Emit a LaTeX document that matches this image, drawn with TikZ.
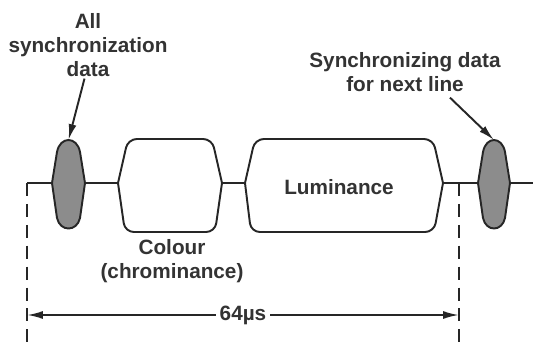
\documentclass[tikz,border=0pt]{standalone}
\usepackage{fontspec}
\setmainfont{Liberation Sans}
\usetikzlibrary{arrows.meta}

\begin{document}
\begin{tikzpicture}[
  x=0.02cm, y=-0.02cm,
  wave/.style={draw=black!85, line width=1.1pt, rounded corners=5},
  syncblob/.style={draw=black!85, fill=black!45, line width=1.1pt},
  note/.style={font=\bfseries\fontsize{11.8}{13.6}\selectfont, text=black!80, align=center, inner sep=1pt},
  marker/.style={draw=black!85, line width=1pt, dash pattern=on 7.4pt off 4.5pt},
  pointer/.style={draw=black!85, line width=1.1pt, -{Latex[length=9pt,width=4.5pt]}}
]
  \useasboundingbox (0,0) rectangle (533,354);

  % points on the line
  \coordinate (start) at (27,183);
  \coordinate (blobA-l) at (52,183);
  \coordinate (blobA-r) at (85,183);
  \coordinate (blobA-top) at (68.5,140);
  \coordinate (chroma-l) at (118,183);
  \coordinate (chroma-r) at (222,183);
  \coordinate (luma-l) at (245,183);
  \coordinate (luma-r) at (443,183);
  \coordinate (lineend) at (459,183);
  \coordinate (blobB-l) at (478,183);
  \coordinate (blobB-r) at (510,183);
  \coordinate (blobB-top) at (494,140);
  \coordinate (finish) at (533,183);

  % the line
  \draw[wave] (start) -- (blobA-l);
  \draw[wave] (blobA-r) -- (chroma-l);
  \draw[wave] (chroma-r) -- (luma-l);
  \draw[wave] (luma-r) -- (blobB-l);
  \draw[wave] (blobB-r) -- (finish);

  \draw[wave] (chroma-l) -- (128,139) -- (212,139) -- (chroma-r);
  \draw[wave] (chroma-l) -- (125,232) -- (215,232) -- (chroma-r);
  \draw[wave] (luma-l) -- (255,139) -- (433,139) -- (luma-r);
  \draw[wave] (luma-l) -- (251,232) -- (434,232) -- (luma-r);

  \filldraw[syncblob] (blobA-l) -- (57,152) .. controls (60,136) and (77,136) .. (80,152)
    -- (blobA-r) -- (80,218) .. controls (77,232) and (60,232) .. (57,218) -- cycle;
  \filldraw[syncblob] (blobB-l) -- (483,152) .. controls (486,136) and (502,136) .. (505,152)
    -- (blobB-r) -- (505,218) .. controls (502,232) and (486,232) .. (483,218) -- cycle;

  % texts
  \node[note] (syncall) at (88,45) {All\\synchronization\\data};
  \node[note] (syncnext) at (405,72) {Synchronizing data\\for next line};
  \node[note] (luma) at (339,187) {Luminance};
  \node[note] (chroma) at (172,261) {Colour\\(chrominance)};

  \draw[pointer] ([xshift=-2pt]syncall.south) -- (blobA-top);
  \draw[pointer] ([shift={(45,4)}]syncnext.south) -- (blobB-top);

  % one line period
  \coordinate (markA-end) at (27,347);
  \coordinate (markB-end) at (459,347);
  \coordinate (span-l) at (27,315);
  \coordinate (span-r) at (459,315);
  \draw[marker] (start) -- (markA-end);
  \draw[marker] (lineend) -- (markB-end);
  \draw[pointer, {Latex[length=9pt,width=4.5pt]}-{Latex[length=9pt,width=4.5pt]}] (span-l) -- node[note, fill=white, inner sep=2pt] (period) {64µs} (span-r);
\end{tikzpicture}
\end{document}
